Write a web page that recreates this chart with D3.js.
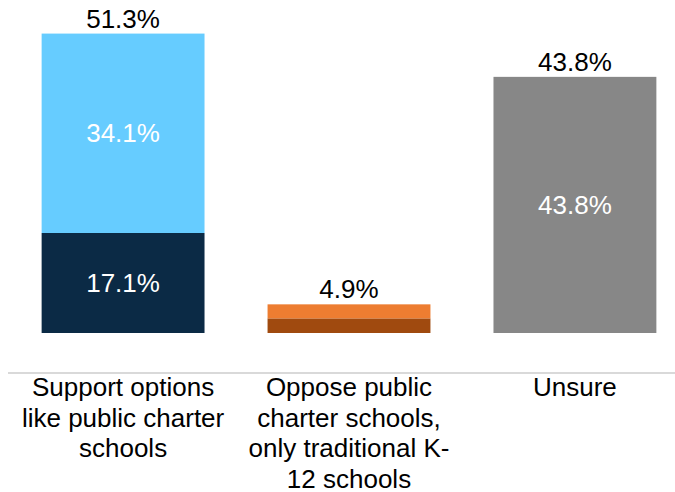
<!DOCTYPE html>
<html><head><meta charset="utf-8">
<script src="https://cdn.jsdelivr.net/npm/d3@7"></script>
<style>body{margin:0;background:#fff}svg{display:block}</style>
</head><body>
<svg id="c" width="675" height="492"></svg>
<script>
const categories = ["Support options like public charter schools", "Oppose public charter schools, only traditional K-12 schools", "Unsure"];
const lowerValues = [17.1, 2.5, 43.8];
const upperValues = [34.1, 2.4, 0];
const totalLabels = ["51.3%", "4.9%", "43.8%"];
const lowerLabels = ["17.1%", "", "43.8%"];
const upperLabels = ["34.1%", "", ""];
const lowerColors = ["#0B2A45", "#A04A0F", "#878787"];
const upperColors = ["#66CCFF", "#ED7D31", "#878787"];

const svg = d3.select("#c");
const font = "'Liberation Sans', Arial, sans-serif";
const valSize = 26, catSize = 26;
const x = d3.scaleBand().domain(categories).range([10, 688]).paddingInner(0.279).paddingOuter(0.14);
const y = d3.scaleLinear().domain([0, 51.3]).range([333, 33]);

const data = categories.map((c, i) => ({c, lo: lowerValues[i], up: upperValues[i], i}));

svg.selectAll("rect.lo").data(data).join("rect")
  .attr("x", d => x(d.c)).attr("width", x.bandwidth())
  .attr("y", d => y(d.lo)).attr("height", d => y(0) - y(d.lo))
  .attr("fill", d => lowerColors[d.i]);
svg.selectAll("rect.up").data(data.filter(d => d.up > 0)).join("rect")
  .attr("x", d => x(d.c)).attr("width", x.bandwidth())
  .attr("y", d => y(d.lo + d.up)).attr("height", d => y(d.lo) - y(d.lo + d.up))
  .attr("fill", d => upperColors[d.i]);

svg.selectAll("text.lo").data(data.filter(d => lowerLabels[d.i])).join("text")
  .attr("x", d => x(d.c) + x.bandwidth()/2).attr("y", d => (y(0) + y(d.lo))/2)
  .attr("dy", "0.35em").attr("text-anchor", "middle")
  .attr("font-family", font).attr("font-size", valSize).attr("fill", "#fff")
  .text(d => lowerLabels[d.i]);
svg.selectAll("text.up").data(data.filter(d => upperLabels[d.i])).join("text")
  .attr("x", d => x(d.c) + x.bandwidth()/2).attr("y", d => (y(d.lo) + y(d.lo + d.up))/2)
  .attr("dy", "0.35em").attr("text-anchor", "middle")
  .attr("font-family", font).attr("font-size", valSize).attr("fill", "#fff")
  .text(d => upperLabels[d.i]);
svg.selectAll("text.tot").data(data).join("text")
  .attr("x", d => x(d.c) + x.bandwidth()/2).attr("y", d => y(d.lo + d.up) - 6)
  .attr("text-anchor", "middle")
  .attr("font-family", font).attr("font-size", valSize).attr("fill", "#000")
  .text(d => totalLabels[d.i]);

svg.append("line").attr("x1", 8).attr("x2", 675).attr("y1", 373).attr("y2", 373)
  .attr("stroke", "#d9d9d9").attr("stroke-width", 2);

const maxW = 215;
const meas = svg.append("text").attr("font-family", font).attr("font-size", catSize).attr("visibility", "hidden");
function tw(s){ meas.text(s); return meas.node().getComputedTextLength(); }
function wrap(str){
  const tokens = str.match(/[^\s-]+-?|\s+/g).filter(t => t.trim().length);
  const lines = []; let cur = "";
  tokens.forEach(t => {
    const sep = cur === "" ? "" : (cur.endsWith("-") ? "" : " ");
    const cand = cur + sep + t;
    if (cur !== "" && tw(cand) > maxW) { lines.push(cur); cur = t; } else cur = cand;
  });
  if (cur) lines.push(cur);
  return lines;
}
data.forEach(d => {
  const lines = wrap(d.c);
  const t = svg.append("text").attr("text-anchor", "middle")
    .attr("font-family", font).attr("font-size", catSize).attr("fill", "#000");
  lines.forEach((l, k) => t.append("tspan").attr("x", x(d.c) + x.bandwidth()/2).attr("y", 396 + k*30.5).text(l));
});
meas.remove();
</script>
</body></html>
